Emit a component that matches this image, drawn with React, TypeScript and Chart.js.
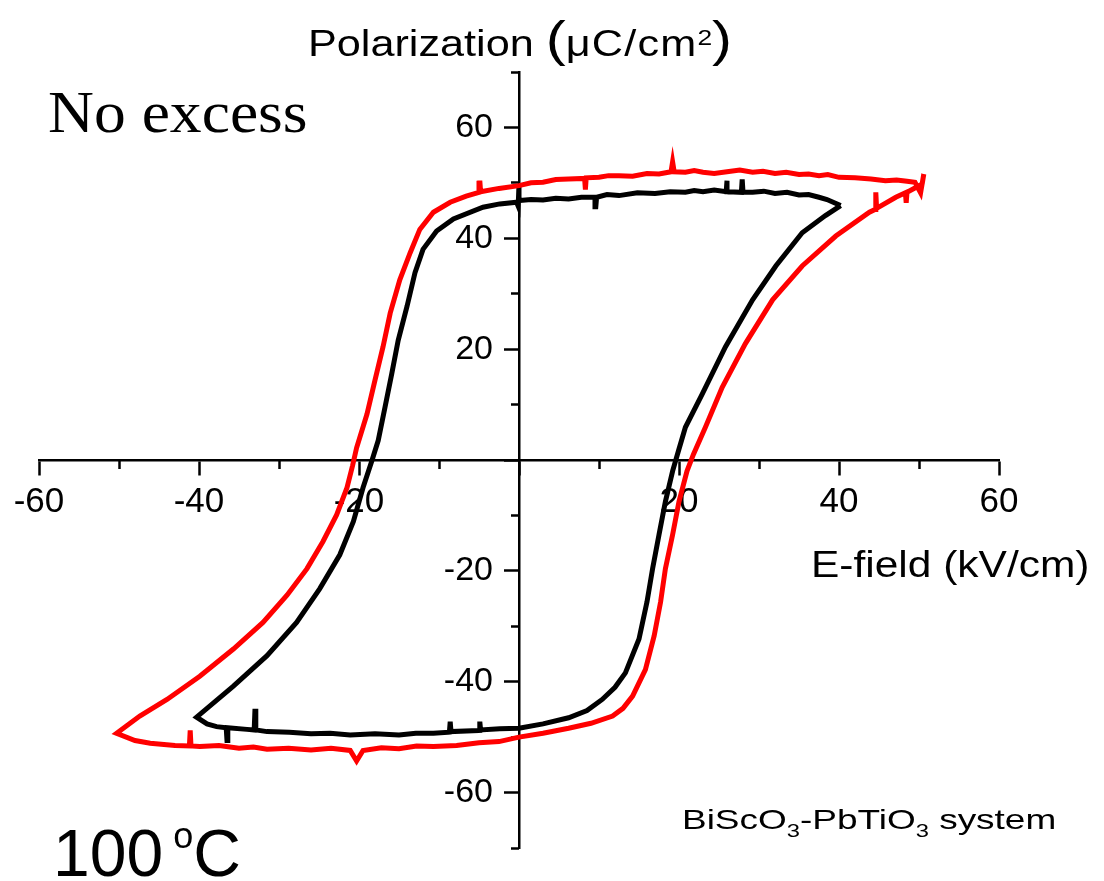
import React, { useEffect, useRef } from "react";
import { Chart, registerables } from "chart.js";

Chart.register(...registerables);

// Red loop (outer, ±50 kV/cm)
const redE = [
  50.4, 50.6, 50.2, 49.5, 48.5, 47.2, 45.8, 44.0, 42.0, 40.0, 38.6, 37.5, 36.2, 35.0, 33.4, 32.0, 30.5, 29.2, 27.6, 26.0,
  24.4, 23.0, 21.9, 20.8, 19.4, 19.2, 19.0, 17.5, 16.0, 14.2, 12.5, 11.2, 10.0, 8.4, 8.3, 8.2, 6.2, 4.6, 3.0, 1.5, 0.0,
  -2.5, -4.8, -4.9, -5.0, -6.6, -8.6, -10.7, -12.4, -13.6, -14.9, -16.1,
  -17.0, -18.0, -19.0, -20.3, -20.8, -21.5, -22.8, -24.5, -26.5, -29.0, -32.0, -35.7, -39.9, -44.0, -47.4, -50.3,
  -48.0, -46.1, -43.0, -41.2, -41.1, -41.0, -39.9, -37.5, -35.0, -33.2, -31.5, -28.8, -26.0, -23.5, -21.1, -20.3, -19.5,
  -17.2, -15.0, -12.8, -10.7, -7.8, -5.0, -2.5, 0.0,
  3.0, 6.2, 9.0, 11.7, 13.0, 14.2, 15.8, 16.9, 17.7, 18.3, 19.2, 20.0, 21.0, 21.8, 23.3, 25.4, 28.3, 31.7, 35.4, 39.6,
  43.8, 44.5, 44.6, 44.7, 47.1, 48.3, 48.4, 48.5, 50.4,
];
const redP = [
  49.8, 51.6, 48.2, 50.1, 50.3, 50.5, 50.4, 50.7, 50.9, 51.0, 51.5, 51.3, 51.6, 51.5, 51.9, 51.7, 52.1, 51.9, 52.3, 52.0,
  51.7, 51.9, 52.2, 51.9, 52.0, 53.8, 52.0, 51.6, 51.7, 51.2, 51.3, 51.3, 51.0, 50.9, 48.8, 50.8, 50.7, 50.6, 50.1, 50.0, 49.5,
  49.0, 48.4, 50.4, 48.3, 47.6, 46.5, 44.7, 41.6, 37.4, 32.5, 26.5,
  20.4, 14.4, 8.3, 2.2, -1.0, -5.0, -9.9, -14.7, -19.6, -24.4, -29.3, -34.1, -39.0, -43.2, -46.2, -49.3,
  -50.6, -51.1, -51.5, -51.6, -48.8, -51.6, -51.7, -51.5, -52.0, -51.8, -52.2, -52.0, -52.3, -52.0, -52.4, -54.3, -52.4,
  -51.9, -52.1, -51.6, -51.7, -51.5, -51.0, -50.8, -50.0,
  -49.3, -48.4, -47.5, -46.2, -44.8, -42.6, -37.8, -31.7, -25.6, -19.6, -13.5, -7.5, -2.0, 1.0, 5.9, 13.1, 21.0, 28.9, 35.0, 40.4,
  44.7, 45.2, 48.3, 45.4, 47.4, 48.2, 46.4, 48.3, 49.8,
];

// Black loop (inner, ±40 kV/cm)
const blackE = [
  40.2, 38.5, 37.5, 36.2, 35.0, 33.5, 32.0, 30.6, 29.2, 28.0, 27.9, 27.8, 26.1, 26.0, 25.9, 24.4, 23.0, 21.9, 20.8, 18.9,
  17.0, 14.8, 12.5, 11.0, 9.7, 9.6, 9.5, 7.8, 6.2, 4.6, 3.0, 1.5, 0.1, 0.0, -0.1, -0.3, -2.4, -4.5, -8.2, -10.3, -12.0,
  -13.0, -14.0, -15.1, -15.9, -16.75, -17.6, -18.4, -19.5, -20.7,
  -22.4, -24.9, -27.8, -31.5, -35.7, -40.3, -39.0, -37.8, -36.6, -36.5, -36.4, -34.0, -33.1, -33.0, -32.9, -31.5, -28.7,
  -26.0, -23.6, -21.1, -18.0, -15.0, -12.9, -10.7, -8.7, -8.6, -8.5, -5.0, -4.9, -4.8, -2.4, 0.0, 3.0, 6.2, 8.5, 10.4,
  12.0, 13.3, 15.0, 16.0, 16.7, 17.5, 18.3, 19.2, 19.9, 20.8, 22.9, 25.8, 29.2, 32.1, 35.4, 38.3, 40.2,
];
const blackP = [
  45.9, 47.0, 47.4, 47.9, 47.8, 48.3, 48.1, 48.5, 48.3, 48.3, 50.6, 48.3, 48.4, 50.4, 48.4, 48.7, 48.4, 48.6, 48.3, 48.4,
  48.1, 48.2, 47.7, 47.9, 47.4, 45.7, 47.4, 47.4, 47.1, 47.2, 46.9, 47.0, 46.8, 49.8, 45.8, 46.5, 46.2, 45.6, 43.5, 41.3, 38.0,
  33.8, 27.7, 21.6, 15.6, 9.5, 3.5, -0.2, -5.0, -11.1,
  -17.1, -23.2, -29.3, -35.3, -40.8, -46.4, -47.6, -48.1, -48.3, -50.6, -48.3, -48.6, -48.7, -44.9, -48.7, -49.0, -49.1,
  -49.4, -49.3, -49.6, -49.4, -49.6, -49.3, -49.3, -49.1, -47.2, -49.0, -48.8, -47.2, -48.7, -48.5, -48.4, -47.6, -46.5, -45.2, -43.2,
  -41.0, -38.4, -32.3, -25.6, -19.6, -13.5, -7.5, -2.0, 1.5, 5.9, 11.9, 20.4, 28.9, 35.0, 41.0, 44.1, 45.9,
];

const xMajorTicks = [-60, -40, -20, 0, 20, 40, 60];
const xMinorTicks = [-50, -30, -10, 10, 30, 50];
const yMajorTicks = [-60, -40, -20, 0, 20, 40, 60];
const yMinorTicks = [-70, -50, -30, -10, 10, 30, 50, 70];
const xTickLabels = [-60, -40, -20, 20, 40, 60];
const yTickLabels = [-60, -40, -20, 20, 40, 60];

const FONT = '"Liberation Sans", Arial, Helvetica, sans-serif';

export default function App() {
  const ref = useRef<HTMLCanvasElement | null>(null);

  useEffect(() => {
    if (!ref.current) return;
    const toPts = (xs: number[], ys: number[]) => xs.map((x, i) => ({ x, y: ys[i] }));
    const setTicks = (vals: number[]) => (scale: any) => {
      scale.ticks = vals.map((v) => ({ value: v }));
    };
    const chart = new Chart(ref.current, {
      type: "scatter",
      data: {
        datasets: [
          {
            label: "red",
            data: toPts(redE, redP),
            showLine: true,
            borderColor: "#ff0000",
            backgroundColor: "#ff0000",
            borderWidth: 5,
            pointRadius: 0,
            tension: 0,
            fill: false,
          },
          {
            label: "black",
            data: toPts(blackE, blackP),
            showLine: true,
            borderColor: "#000000",
            backgroundColor: "#000000",
            borderWidth: 5,
            pointRadius: 0,
            tension: 0,
            fill: false,
          },
        ],
      },
      options: {
        animation: false,
        responsive: false,
        maintainAspectRatio: false,
        layout: { padding: { left: 39, right: 105, top: 72, bottom: 33 } },
        plugins: { legend: { display: false }, tooltip: { enabled: false } },
        scales: {
          x: {
            type: "linear",
            min: -60,
            max: 60,
            position: "center",
            afterBuildTicks: setTicks(xMajorTicks),
            ticks: {
              autoSkip: false,
              maxRotation: 0,
              padding: 7,
              color: "#000",
              font: { family: FONT, size: 35 },
              callback: (v: any) => (xTickLabels.includes(Number(v)) ? String(v) : ""),
            },
            grid: { drawOnChartArea: false, drawTicks: true, tickLength: 14, tickWidth: 2.5, tickColor: "#000" },
            border: { display: true, color: "#000", width: 2.5 },
          },
          x2: {
            type: "linear",
            min: -60,
            max: 60,
            position: "center",
            afterBuildTicks: setTicks(xMinorTicks),
            ticks: { display: false, autoSkip: false },
            grid: { drawOnChartArea: false, drawTicks: true, tickLength: 8, tickWidth: 2.5, tickColor: "#000" },
            border: { display: false },
          },
          y: {
            type: "linear",
            min: -70,
            max: 70,
            position: "center",
            afterBuildTicks: setTicks(yMajorTicks),
            ticks: {
              autoSkip: false,
              padding: 12,
              color: "#000",
              font: { family: FONT, size: 34 },
              callback: (v: any) => (yTickLabels.includes(Number(v)) ? String(v) : ""),
            },
            grid: { drawOnChartArea: false, drawTicks: true, tickLength: 14, tickWidth: 2.5, tickColor: "#000" },
            border: { display: true, color: "#000", width: 2.5 },
          },
          y2: {
            type: "linear",
            min: -70,
            max: 70,
            position: "center",
            afterBuildTicks: setTicks(yMinorTicks),
            ticks: { display: false, autoSkip: false },
            grid: { drawOnChartArea: false, drawTicks: true, tickLength: 8, tickWidth: 2.5, tickColor: "#000" },
            border: { display: false },
          },
        },
      } as any,
    });
    return () => chart.destroy();
  }, []);

  const abs = (left: number, top: number, extra: React.CSSProperties = {}): React.CSSProperties => ({
    position: "absolute",
    left,
    top,
    whiteSpace: "nowrap",
    lineHeight: 1,
    color: "#000",
    transformOrigin: "0 0",
    ...extra,
  });

  return (
    <div style={{ position: "absolute", left: 0, top: 0, width: 1104, height: 881, background: "#fff", overflow: "hidden" }}>
      <canvas ref={ref} width={1104} height={881} style={{ position: "absolute", left: 0, top: 0, width: 1104, height: 881 }} />
      <div style={abs(308, 26, { fontFamily: FONT, fontSize: 36, transform: "scaleX(1.2)" })}>
        Polarization <span style={{ fontSize: 50, lineHeight: 0 }}>(</span>
        <span style={{ letterSpacing: 1 }}>μC/cm</span>
        <span style={{ fontSize: 22, lineHeight: 0, position: "relative", top: -11 }}>2</span>
        <span style={{ fontSize: 50, lineHeight: 0 }}>)</span>
      </div>
      <div style={abs(811, 546.5, { fontFamily: FONT, fontSize: 36, transform: "scaleX(1.18)" })}>E-field (kV/cm)</div>
      <div style={abs(48, 81.7, { fontFamily: '"Liberation Serif", "Times New Roman", serif', fontSize: 60, transform: "scaleX(1.06)" })}>
        No excess
      </div>
      <div style={abs(53, 820, { fontFamily: FONT, fontSize: 66 })}>
        100<span style={{ fontSize: 36, lineHeight: 0, position: "relative", top: -28 }}>{"\u00a0o"}</span>C
      </div>
      <div style={abs(682, 806, { fontFamily: FONT, fontSize: 28, transform: "scaleX(1.32)" })}>
        BiScO<span style={{ fontSize: 18, lineHeight: 0, position: "relative", top: 8 }}>3</span>-PbTiO
        <span style={{ fontSize: 18, lineHeight: 0, position: "relative", top: 8 }}>3</span> system
      </div>
    </div>
  );
}
